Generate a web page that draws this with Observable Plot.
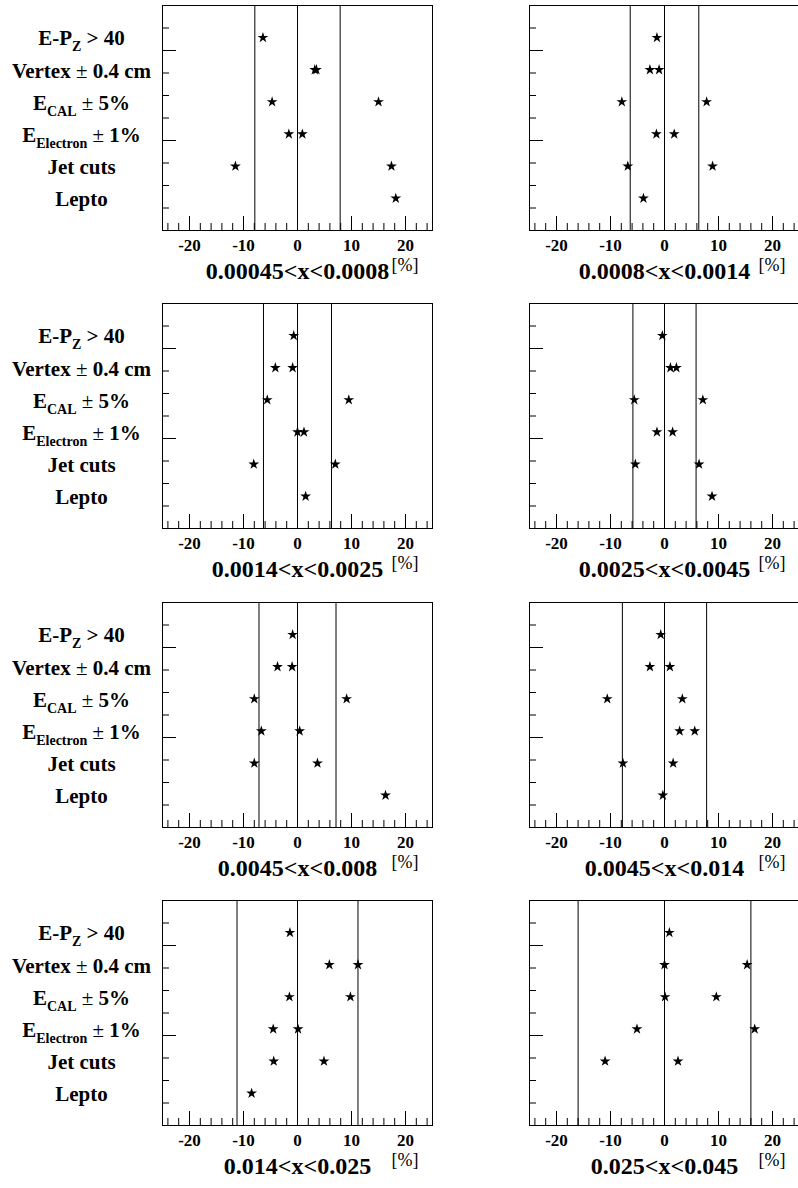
<!DOCTYPE html>
<html><head><meta charset="utf-8">
<script src="https://cdn.jsdelivr.net/npm/d3@7"></script>
<script src="https://cdn.jsdelivr.net/npm/@observablehq/plot@0.6"></script>
<style>
html,body{margin:0;padding:0;background:#fff;overflow:hidden;width:798px;height:1188px}
#root{position:relative;width:798px;height:1188px;overflow:hidden;background:#fff}
.panel{position:absolute}
</style></head><body><div id="root"></div>
<script>
// ---- data ----
const bins = ["0.00045<x<0.0008", "0.0008<x<0.0014", "0.0014<x<0.0025", "0.0025<x<0.0045",
              "0.0045<x<0.008", "0.0045<x<0.014", "0.014<x<0.025", "0.025<x<0.045"];
const statError = [7.9, 6.35, 6.3, 5.85, 7.13, 7.8, 11.2, 16.0];

const labelMain = ["E-P", "Vertex", "E", "E", "Jet cuts", "Lepto"];
const labelSub  = ["Z", "", "CAL", "Electron", "", ""];
const labelTail = [" > 40", " \u00b1 0.4 cm", " \u00b1 5%", " \u00b1 1%", "", ""];
const rowLevel  = [6, 5, 4, 3, 2, 1];

// systematic shifts [%] per bin, for each source (up / down variations)
const epz       = [[-6.4], [-1.4], [-0.7], [-0.4], [-0.9], [-0.7], [-1.4], [0.9]];
const vertex    = [[3.2, 3.5], [-2.7, -1.0], [-4.1, -0.9], [1.1, 2.2], [-3.7, -1.0], [-2.7, 1.0], [5.9, 11.2], [0.0, 15.3]];
const ecal      = [[-4.7, 15.0], [-7.9, 7.8], [-5.6, 9.5], [-5.6, 7.1], [-8.0, 9.1], [-10.6, 3.3], [-1.5, 9.8], [0.1, 9.6]];
const eElectron = [[-1.6, 0.9], [-1.5, 1.8], [0.0, 1.2], [-1.4, 1.5], [-6.7, 0.4], [2.8, 5.6], [-4.5, 0.1], [-5.1, 16.7]];
const jetCuts   = [[-11.5, 17.4], [-6.8, 8.9], [-8.1, 7.0], [-5.4, 6.4], [-8.0, 3.7], [-7.7, 1.6], [-4.4, 4.9], [-11.0, 2.5]];
const lepto     = [[18.2], [-3.9], [1.5], [8.8], [16.3], [-0.3], [-8.5], []];
const series = [epz, vertex, ecal, eElectron, jetCuts, lepto];

const majorX = [-20, -10, 0, 10, 20];
const minorX = [-24, -22, -18, -16, -14, -12, -8, -6, -4, -2, 2, 4, 6, 8, 12, 14, 16, 18, 22, 24];
const majorY = [4, 8];
const minorY = [1, 2, 3, 5, 6, 7, 9];

// ---- layout ----
const FONT = "Liberation Serif, Times New Roman, serif";
const rowY = rowLevel.map(k => k * 10 / 7);
const root = document.getElementById("root");

function makePanel(i) {
  const col = i % 2, row = Math.floor(i / 2);
  const s = statError[i];
  const pts = [];
  series.forEach((ser, j) => ser[i].forEach(v => pts.push({v, y: rowY[j]})));
  const labels = labelMain.map((m, j) => ({text: m + labelSub[j] + labelTail[j], y: rowY[j]}));
  const marks = [
    Plot.ruleX([-s, 0, s], {stroke: "#000", strokeWidth: 1}),
    Plot.axisX(minorX, {anchor: "bottom", tickSize: -7, tickFormat: () => "", label: null, stroke: "#000"}),
    Plot.axisX(majorX, {anchor: "bottom", tickSize: -14, tickFormat: () => "", label: null, stroke: "#000"}),
    Plot.axisX(majorX, {anchor: "bottom", tickSize: 0, tickPadding: 8, tickFormat: d => String(d), label: null,
                        fontSize: 17, fontWeight: "bold", fill: "#000", fontFamily: FONT}),
    Plot.axisY(minorY, {anchor: "left", tickSize: -7, tickFormat: () => "", label: null, stroke: "#000"}),
    Plot.axisY(majorY, {anchor: "left", tickSize: -14, tickFormat: () => "", label: null, stroke: "#000"}),
    Plot.frame({stroke: "#000", strokeWidth: 1}),
    Plot.dot(pts, {x: "v", y: "y", symbol: "star", r: 3.4, fill: "#000", stroke: "none"}),
    Plot.text([bins[i]], {text: d => d, frameAnchor: "bottom", dy: 48, fontSize: 24, fontWeight: "bold",
                          fill: "#000", fontFamily: FONT}),
    Plot.text(["[%]"], {text: d => d, frameAnchor: "bottom-right", dx: -14, dy: 40, fontSize: 18,
                        fontWeight: "normal", fill: "#000", fontFamily: FONT})
  ];
  if (col === 0) {
    marks.push(Plot.text(labels, {y: "y", text: "text", frameAnchor: "left", dx: -81, dy: 1,
      textAnchor: "middle", fontSize: 21, fontWeight: "bold", fill: "#000", fontFamily: FONT}));
  }
  const svg = Plot.plot({
    width: 440, height: 298,
    marginTop: 5, marginBottom: 68, marginLeft: 162, marginRight: 8,
    x: {domain: [-25, 25], label: null},
    y: {domain: [0, 10], label: null},
    style: {fontFamily: FONT, background: "transparent", color: "#000", overflow: "visible"},
    marks
  });
  // subscripts and thin ± in the row labels
  if (col === 0) {
    const ns = "http://www.w3.org/2000/svg";
    svg.querySelectorAll("text").forEach(t => {
      const j = labelMain.findIndex((m, k) => t.textContent === m + labelSub[k] + labelTail[k]);
      if (j < 0 || (!labelSub[j] && !labelTail[j].includes("\u00b1"))) return;
      t.textContent = "";
      const add = (str, attrs) => {
        const ts = document.createElementNS(ns, "tspan");
        ts.textContent = str;
        for (const k in attrs) ts.setAttribute(k, attrs[k]);
        t.appendChild(ts);
      };
      add(labelMain[j], {});
      if (labelSub[j]) add(labelSub[j], {"font-size": 14, dy: 6});
      const tail = labelTail[j];
      const pm = tail.indexOf("\u00b1");
      const back = labelSub[j] ? {dy: -6} : {};
      if (pm >= 0) {
        add(tail.slice(0, pm + 1), Object.assign({"font-weight": "normal"}, back));
        add(tail.slice(pm + 1), {});
      } else {
        add(tail, back);
      }
    });
  }
  svg.classList.add("panel");
  svg.style.left = (col === 0 ? 0 : 366.5) + "px";
  svg.style.top = (row * 298.3) + "px";
  root.appendChild(svg);
}
for (let i = 0; i < bins.length; i++) makePanel(i);
</script></body></html>
